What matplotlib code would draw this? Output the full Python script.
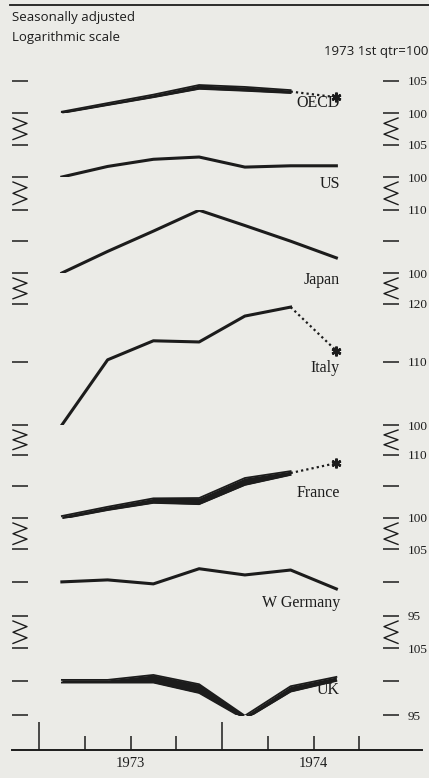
import numpy as np
import matplotlib
matplotlib.use('Agg')
import matplotlib.pyplot as plt
from matplotlib.lines import Line2D
from matplotlib.ticker import FixedLocator, FixedFormatter, NullFormatter, NullLocator

# quarterly index, 1973 1st qtr = 100; last quarter (1974 Q3) is an estimate
quarters = ['1973 Q1', '1973 Q2', '1973 Q3', '1973 Q4', '1974 Q1', '1974 Q2', '1974 Q3']
quarter_edges = [0, 1, 2, 3, 4, 5, 6, 7]
year_ticks = [2, 6]
year_labels = ['1973', '1974']

oecd_lo = [100.0, 101.2, 102.4, 103.7, 103.4, 103.05]
oecd_hi = [100.2, 101.5, 102.8, 104.3, 104.0, 103.5]
oecd_est = 102.4
us = [100.0, 101.6, 102.7, 103.05, 101.5, 101.7, 101.7]
japan = [100.0, 103.3, 106.5, 109.9, 107.4, 104.9, 102.3]
italy = [100.0, 110.3, 113.5, 113.3, 117.8, 119.4]
italy_est = 111.8
france_lo = [99.9, 101.2, 102.3, 102.1, 105.1, 106.7]
france_hi = [100.3, 101.7, 103.0, 103.05, 106.2, 107.3]
france_est = 108.6
wgermany = [100.0, 100.3, 99.7, 102.0, 101.05, 101.8, 98.95]
uk_lo = [99.75, 99.75, 99.75, 98.2, 94.4, 98.4, 100.0]
uk_hi = [100.15, 100.15, 100.9, 99.5, 94.9, 99.2, 100.6]

# scale ticks per panel and which of them carry a number
oecd_ticks, oecd_tlabels = [100, 105], ['100', '105']
us_ticks, us_tlabels = [100, 105], ['100', '105']
japan_ticks, japan_tlabels = [100, 105, 110], ['100', '', '110']
italy_ticks, italy_tlabels = [100, 110, 120], ['100', '110', '120']
france_ticks, france_tlabels = [100, 105, 110], ['100', '', '110']
wgermany_ticks, wgermany_tlabels = [95, 100, 105], ['95', '', '105']
uk_ticks, uk_tlabels = [95, 100, 105], ['95', '', '105']

# where the country name sits (index level)
oecd_name_y, us_name_y, japan_name_y = 101.5, 99.0, 98.9
italy_name_y, france_name_y, wgermany_name_y, uk_name_y = 108.9, 103.8, 96.9, 98.6

# ---- layout (pixels) ----
W, H = 429, 778
PX_PER_LN = 665          # vertical log scale
X0_PX, Q_PX = 39, 45.75  # start of 1973, pixels per quarter
SPINE_L, SPINE_R = 28, 383
BG = '#ebebe7'
INK = '#1c1c1c'
SERIF = 'Liberation Serif'
SANS = 'Open Sans'

x = np.arange(len(quarters)) + 0.5


def xlim_for(a, b):
    return ((a - X0_PX) / Q_PX, (b - X0_PX) / Q_PX)


fig = plt.figure(figsize=(W / 100, H / 100), dpi=100)
fig.patch.set_facecolor(BG)


def panel(ticks, tlabels, bottom_px):
    lo, hi = min(ticks), max(ticks)
    h = PX_PER_LN * np.log(hi / lo)
    ax = fig.add_axes([SPINE_L / W, 1 - bottom_px / H, (SPINE_R - SPINE_L) / W, h / H])
    ax.set_yscale('log')
    ax.set_ylim(lo, hi)
    ax.set_xlim(*xlim_for(SPINE_L, SPINE_R))
    ax.patch.set_alpha(0)
    for s in ax.spines.values():
        s.set_visible(False)
    ax.tick_params(axis='x', bottom=False, labelbottom=False)
    ax.yaxis.set_major_locator(FixedLocator(ticks))
    ax.yaxis.set_major_formatter(FixedFormatter(tlabels))
    ax.yaxis.set_minor_locator(NullLocator())
    ax.tick_params(axis='y', which='major', left=True, right=True,
                   labelleft=False, labelright=True, direction='out',
                   length=11.5, width=1.1, pad=6, labelsize=9.5, color=INK,
                   labelcolor=INK)
    for t in ax.get_yticklabels():
        t.set_fontfamily(SERIF)
    return ax


def band(ax, lo, hi):
    n = len(lo)
    ax.fill_between(x[:n], lo, hi, color=INK, lw=0)
    ax.plot(x[:n], lo, color=INK, lw=1.3, solid_joinstyle='round')
    ax.plot(x[:n], hi, color=INK, lw=1.3, solid_joinstyle='round')


def estimate(ax, last, est):
    ax.plot([x[5], x[6]], [last, est], color=INK, lw=1.6, ls=(0, (1, 1.4)))
    ax.plot([x[6]], [est], marker=(6, 2, 0), ms=7, mew=1.8, color=INK,
            clip_on=False)


def name(ax, text, yv):
    ax.text(6.58, yv, text, ha='right', va='center', fontsize=11.5,
            family=SERIF, color=INK)


ax_oecd = panel(oecd_ticks, oecd_tlabels, 113)
band(ax_oecd, oecd_lo, oecd_hi)
estimate(ax_oecd, (oecd_lo[-1] + oecd_hi[-1]) / 2, oecd_est)
name(ax_oecd, 'OECD', oecd_name_y)

ax_us = panel(us_ticks, us_tlabels, 177)
ax_us.plot(x, us, color=INK, lw=2.2, solid_joinstyle='round')
name(ax_us, 'US', us_name_y)

ax_jp = panel(japan_ticks, japan_tlabels, 273)
ax_jp.plot(x, japan, color=INK, lw=2.2, solid_joinstyle='round')
name(ax_jp, 'Japan', japan_name_y)

ax_it = panel(italy_ticks, italy_tlabels, 425)
ax_it.plot(x[:len(italy)], italy, color=INK, lw=2.2, solid_joinstyle='round')
estimate(ax_it, italy[-1], italy_est)
name(ax_it, 'Italy', italy_name_y)

ax_fr = panel(france_ticks, france_tlabels, 518)
band(ax_fr, france_lo, france_hi)
estimate(ax_fr, (france_lo[-1] + france_hi[-1]) / 2, france_est)
name(ax_fr, 'France', france_name_y)

ax_wg = panel(wgermany_ticks, wgermany_tlabels, 616)
ax_wg.plot(x, wgermany, color=INK, lw=2.2, solid_joinstyle='round')
name(ax_wg, 'W Germany', wgermany_name_y)

ax_uk = panel(uk_ticks, uk_tlabels, 715)
band(ax_uk, uk_lo, uk_hi)
name(ax_uk, 'UK', uk_name_y)

panels = [ax_oecd, ax_us, ax_jp, ax_it, ax_fr, ax_wg, ax_uk]

# scale breaks between panels, on both sides
gap = 5 / H
for upper, lower in zip(panels[:-1], panels[1:]):
    ys = np.linspace(upper.get_position().y0 - gap, lower.get_position().y1 + gap, 5)
    for a, b in [(13, 27), (398, 384)]:
        xs = [a / W, b / W, a / W, b / W, a / W]
        fig.add_artist(Line2D(xs, ys, transform=fig.transFigure, color=INK, lw=1.0))

# time axis
axx = fig.add_axes([12 / W, 1 - 750 / H, (422 - 12) / W, 40 / H])
axx.set_xlim(*xlim_for(12, 422))
axx.set_ylim(0, 1)
axx.patch.set_alpha(0)
for k in ['top', 'left', 'right']:
    axx.spines[k].set_visible(False)
axx.spines['bottom'].set_linewidth(1.4)
axx.spines['bottom'].set_color(INK)
axx.set_yticks([])
major = [q for q in quarter_edges if q % 4 == 0]
minor = [q for q in quarter_edges if q % 4 != 0]
axx.xaxis.set_major_locator(FixedLocator(major))
axx.xaxis.set_major_formatter(NullFormatter())
axx.xaxis.set_minor_locator(FixedLocator(minor))
axx.xaxis.set_minor_formatter(FixedFormatter(
    [year_labels[year_ticks.index(q)] if q in year_ticks else '' for q in minor]))
axx.tick_params(which='major', direction='in', length=20, width=1.1, color=INK)
axx.tick_params(which='minor', direction='in', length=10, width=1.1, color=INK,
                pad=5, labelsize=10.5, labelcolor=INK)
for t in axx.get_xticklabels(minor=True):
    t.set_fontfamily(SERIF)

# header
fig.add_artist(Line2D([10 / W, 1], [1 - 5 / H] * 2, transform=fig.transFigure,
                      color=INK, lw=1.3))
fig.text(12 / W, 1 - 18 / H, 'Seasonally adjusted', ha='left', va='center',
         fontsize=9.5, family=SANS, color=INK)
fig.text(12 / W, 1 - 38 / H, 'Logarithmic scale', ha='left', va='center',
         fontsize=9.5, family=SANS, color=INK)
fig.text(428 / W, 1 - 52 / H, '1973 1st qtr=100', ha='right', va='center',
         fontsize=9.5, family=SANS, color=INK)

fig.savefig('out.png', dpi=100, facecolor=BG)
